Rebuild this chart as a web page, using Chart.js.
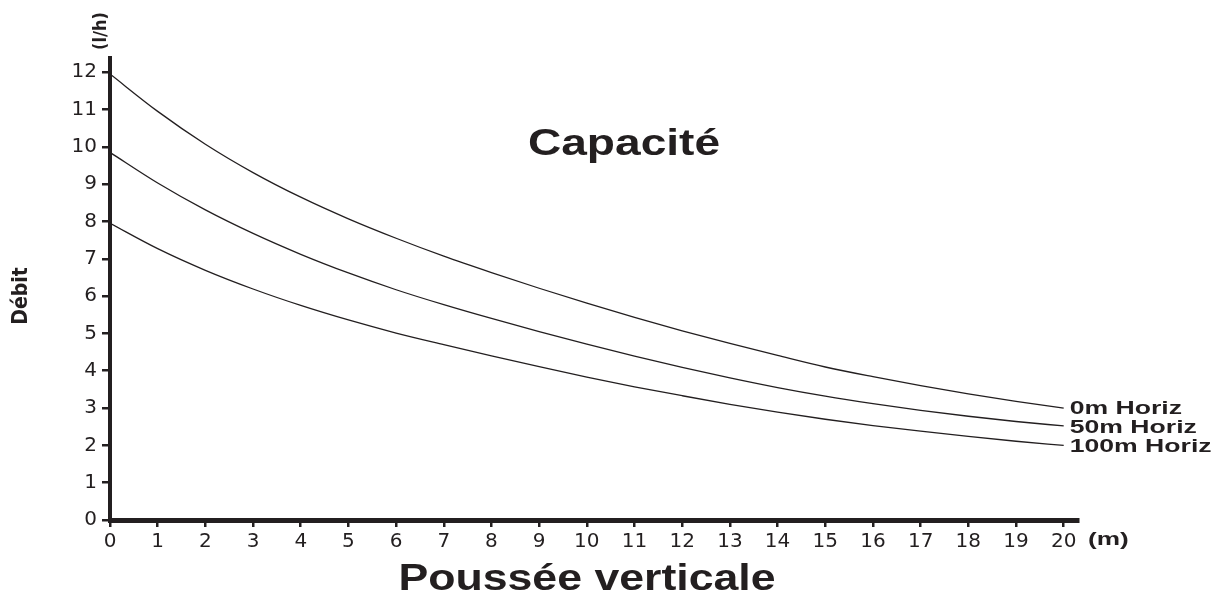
<!DOCTYPE html>
<html>
<head>
<meta charset="utf-8">
<script src="https://cdn.jsdelivr.net/npm/chart.js@4.4.1/dist/chart.umd.min.js"></script>
<style>
    html, body { margin: 0; padding: 0; background: #fff; }
    #wrap { width: 1215px; height: 605px; position: relative; }
</style>
</head>
<body>
<div id="wrap"><canvas id="capaciteChart" width="1215" height="605"></canvas></div>
<script>
const pousseeVerticale = [0, 1, 2, 3, 4, 5, 6, 7, 8, 9, 10, 11, 12, 13, 14, 15, 16, 17, 18, 19, 20];
const debit0m = [11.95, 10.95, 10.07, 9.31, 8.65, 8.07, 7.55, 7.07, 6.63, 6.21, 5.81, 5.43, 5.07, 4.73, 4.41, 4.1, 3.84, 3.6, 3.38, 3.18, 3.0];
const debit50m = [9.85, 9.03, 8.31, 7.68, 7.12, 6.62, 6.17, 5.77, 5.4, 5.05, 4.71, 4.39, 4.09, 3.81, 3.55, 3.32, 3.12, 2.94, 2.78, 2.64, 2.52];
const debit100m = [7.95, 7.27, 6.69, 6.19, 5.75, 5.36, 5.01, 4.7, 4.4, 4.11, 3.83, 3.57, 3.33, 3.1, 2.89, 2.7, 2.53, 2.38, 2.24, 2.11, 2.0];
const seriesLabels = ["0m Horiz", "50m Horiz", "100m Horiz"];

const ink = "#231f20";
const sans = "'Liberation Sans', Arial, sans-serif";
const narrow = "'Liberation Sans Narrow', 'DejaVu Sans Condensed', sans-serif";

function toPoints(values) {
    return values.map((v, i) => ({ x: pousseeVerticale[i], y: v }));
}

// le texte de l'original est étiré en largeur
function wideText(ctx, text, x, y, sx, align) {
    ctx.save();
    ctx.translate(x, y);
    ctx.scale(sx, 1);
    ctx.textAlign = align;
    ctx.fillText(text, 0, 0);
    ctx.restore();
}

function verticalText(ctx, text, x, y, font) {
    ctx.save();
    ctx.font = font;
    ctx.translate(x, y);
    ctx.rotate(-Math.PI / 2);
    ctx.textAlign = "center";
    ctx.fillText(text, 0, 0);
    ctx.restore();
}

const annotations = {
    id: "annotations",
    afterDraw(chart) {
        const ctx = chart.ctx;
        ctx.save();
        ctx.fillStyle = ink;
        ctx.textBaseline = "alphabetic";

        ctx.font = "bold 36px " + sans;
        wideText(ctx, "Capacité", 624, 155, 1.28, "center");
        wideText(ctx, "Poussée verticale", 587, 590, 1.24, "center");

        ctx.font = "bold 19px " + sans;
        wideText(ctx, "(m)", 1088, 545, 1.38, "left");

        const baselines = [414, 433, 452];
        chart.data.datasets.forEach((ds, i) => {
            const meta = chart.getDatasetMeta(i);
            const last = meta.data[meta.data.length - 1];
            wideText(ctx, ds.label, last.x + 6, baselines[i], 1.4, "left");
        });

        ctx.textBaseline = "middle";
        verticalText(ctx, "Débit", 22, 296, "bold 21px " + narrow);
        verticalText(ctx, "(l/h)", 101, 31, "bold 18px " + narrow);
        ctx.restore();
    }
};

const lineStyle = {
    borderColor: ink,
    borderWidth: 1.3,
    pointRadius: 0,
    fill: false,
    cubicInterpolationMode: "monotone"
};

const tickFont = { family: "'DejaVu Sans', sans-serif", size: 20 };

new Chart(document.getElementById("capaciteChart"), {
    type: "line",
    data: {
        datasets: [
            Object.assign({ label: seriesLabels[0], data: toPoints(debit0m) }, lineStyle),
            Object.assign({ label: seriesLabels[1], data: toPoints(debit50m) }, lineStyle),
            Object.assign({ label: seriesLabels[2], data: toPoints(debit100m) }, lineStyle)
        ]
    },
    options: {
        responsive: false,
        animation: false,
        layout: { padding: { left: 0, right: 137, top: 58, bottom: 0 } },
        plugins: {
            legend: { display: false },
            tooltip: { enabled: false }
        },
        scales: {
            x: {
                type: "linear",
                min: 0,
                max: 20.3,
                afterFit(scale) { scale.height = 85; },
                border: { display: true, color: ink, width: 5 },
                grid: { drawOnChartArea: false, drawTicks: true, tickLength: 7, color: ink, lineWidth: 2.5 },
                ticks: {
                    stepSize: 1,
                    includeBounds: false,
                    autoSkip: false,
                    maxRotation: 0,
                    color: ink,
                    padding: 3,
                    font: tickFont
                }
            },
            y: {
                min: 0,
                max: 12.38,
                afterFit(scale) { scale.width = 110; },
                border: { display: true, color: ink, width: 4 },
                grid: { drawOnChartArea: false, drawTicks: true, tickLength: 8, color: ink, lineWidth: 2.5 },
                ticks: {
                    stepSize: 1,
                    includeBounds: false,
                    color: ink,
                    padding: 5,
                    font: tickFont
                }
            }
        }
    },
    plugins: [annotations]
});
</script>
</body>
</html>
